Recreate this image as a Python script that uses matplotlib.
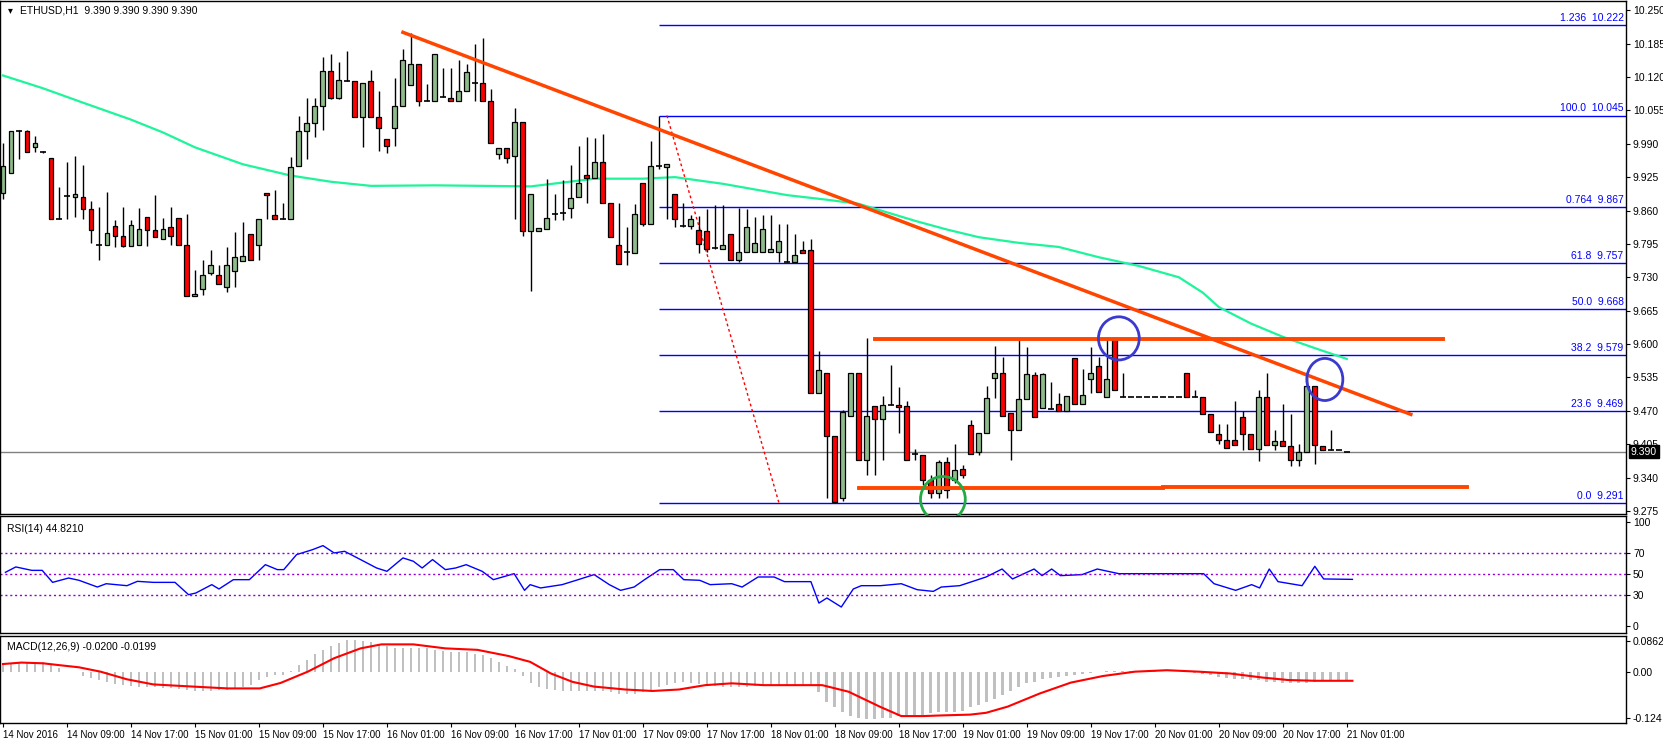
import matplotlib
matplotlib.use("Agg")
import matplotlib.pyplot as plt
from matplotlib.patches import Ellipse
import numpy as np

opens = [9.894,9.934,10.015,10.015,9.983,9.974,9.963,9.843,9.888,9.887,
 9.886,9.863,9.793,9.793,9.829,9.810,9.790,9.793,9.847,9.822,
 9.805,9.827,9.845,9.793,9.694,9.707,9.738,9.735,9.711,9.743,
 9.762,9.814,9.793,9.894,9.851,9.843,9.843,9.946,10.015,10.030,
 10.063,10.132,10.080,10.112,10.112,10.043,10.112,10.043,9.999,10.020,
 10.063,10.104,10.145,10.073,10.073,10.082,10.079,10.073,10.092,10.109,
 10.109,10.073,9.970,9.981,9.967,10.033,9.821,9.821,9.824,9.853,
 9.856,9.865,9.887,9.929,9.923,9.955,9.875,9.792,9.780,9.778,
 9.914,9.834,9.946,9.944,9.892,9.830,9.829,9.822,9.821,9.787,
 9.786,9.815,9.764,9.779,9.779,9.779,9.780,9.779,9.760,9.760,
 9.784,9.784,9.504,9.544,9.421,9.300,9.460,9.544,9.374,9.479,
 9.454,9.482,9.482,9.480,9.385,9.384,9.336,9.310,9.371,9.335,
 9.356,9.443,9.389,9.427,9.533,9.544,9.465,9.432,9.492,9.539,
 9.476,9.473,9.484,9.469,9.572,9.484,9.531,9.557,9.496,9.612,
 9.497,9.497,9.497,9.497,9.497,9.497,9.497,9.497,9.544,9.496,
 9.496,9.463,9.424,9.414,9.414,9.457,9.424,9.395,9.496,9.404,
 9.411,9.402,9.374,9.390,9.518,9.402,9.393,9.393,9.390]
highs = [9.992,10.015,10.017,10.017,10.005,9.976,9.963,9.905,9.955,9.967,
 9.949,9.879,9.866,9.897,9.842,9.866,9.842,9.864,9.847,9.890,
 9.845,9.867,9.845,9.854,9.744,9.764,9.784,9.754,9.788,9.818,
 9.838,9.814,9.843,9.894,9.899,9.874,9.965,10.044,10.080,10.080,
 10.158,10.165,10.150,10.171,10.112,10.108,10.134,10.093,9.999,10.119,
 10.175,10.206,10.145,10.107,10.164,10.138,10.138,10.153,10.145,10.184,
 10.195,10.096,9.981,9.981,10.059,10.033,9.892,9.826,9.921,9.892,
 9.919,9.949,9.985,10.003,10.002,10.009,9.875,9.874,9.828,9.873,
 9.914,9.996,10.045,9.951,9.892,9.874,9.852,9.850,9.863,9.870,
 9.870,9.815,9.865,9.863,9.847,9.852,9.852,9.833,9.833,9.815,
 9.800,9.805,9.586,9.544,9.421,9.472,9.544,9.544,9.611,9.479,
 9.498,9.559,9.517,9.489,9.395,9.384,9.345,9.375,9.380,9.406,
 9.364,9.453,9.426,9.518,9.596,9.575,9.465,9.607,9.594,9.546,
 9.543,9.526,9.504,9.498,9.572,9.552,9.594,9.575,9.609,9.612,
 9.543,9.497,9.497,9.497,9.497,9.497,9.497,9.497,9.544,9.510,
 9.496,9.463,9.444,9.445,9.490,9.470,9.424,9.511,9.544,9.432,
 9.484,9.463,9.405,9.536,9.518,9.402,9.432,9.393,9.390]
lows = [9.882,9.934,9.961,9.973,9.973,9.972,9.843,9.843,9.843,9.847,
 9.843,9.796,9.764,9.793,9.788,9.788,9.790,9.792,9.790,9.808,
 9.805,9.792,9.793,9.694,9.694,9.696,9.735,9.717,9.701,9.711,
 9.762,9.764,9.764,9.843,9.843,9.843,9.843,9.946,9.961,10.004,
 10.017,10.078,10.078,10.112,10.043,9.983,10.043,9.976,9.972,9.985,
 10.063,10.104,10.064,10.073,10.073,10.082,10.073,10.073,10.092,10.073,
 10.073,9.992,9.960,9.952,9.843,9.811,9.704,9.821,9.824,9.841,
 9.841,9.845,9.887,9.874,9.923,9.875,9.808,9.755,9.753,9.778,
 9.829,9.834,9.940,9.844,9.828,9.828,9.824,9.777,9.779,9.786,
 9.786,9.764,9.760,9.779,9.779,9.779,9.780,9.760,9.760,9.760,
 9.778,9.504,9.504,9.300,9.291,9.295,9.460,9.374,9.345,9.345,
 9.374,9.482,9.426,9.375,9.375,9.325,9.300,9.300,9.300,9.330,
 9.340,9.385,9.384,9.427,9.494,9.460,9.374,9.432,9.492,9.458,
 9.476,9.473,9.469,9.469,9.484,9.484,9.504,9.507,9.496,9.510,
 9.497,9.497,9.497,9.497,9.497,9.497,9.497,9.497,9.496,9.496,
 9.463,9.429,9.406,9.397,9.404,9.393,9.395,9.373,9.404,9.394,
 9.402,9.362,9.362,9.390,9.367,9.394,9.393,9.393,9.390]
closes = [9.947,10.015,10.015,9.973,9.991,9.974,9.843,9.843,9.888,9.892,
 9.863,9.822,9.793,9.816,9.810,9.790,9.832,9.824,9.822,9.809,
 9.824,9.811,9.793,9.694,9.698,9.735,9.754,9.717,9.754,9.769,
 9.772,9.764,9.843,9.890,9.843,9.843,9.945,10.015,10.030,10.063,
 10.132,10.080,10.114,10.112,10.043,10.108,10.043,10.020,9.985,10.063,
 10.153,10.145,10.073,10.073,10.164,10.082,10.073,10.092,10.129,10.109,
 10.073,9.992,9.981,9.962,10.033,9.821,9.892,9.826,9.845,9.853,
 9.856,9.884,9.913,9.923,9.955,9.875,9.808,9.755,9.780,9.854,
 9.833,9.946,9.946,9.951,9.844,9.830,9.844,9.794,9.786,9.787,
 9.793,9.764,9.780,9.828,9.797,9.824,9.786,9.800,9.760,9.774,
 9.778,9.504,9.549,9.421,9.292,9.467,9.544,9.374,9.460,9.454,
 9.482,9.482,9.478,9.375,9.385,9.336,9.310,9.370,9.315,9.355,
 9.345,9.385,9.426,9.494,9.544,9.460,9.432,9.492,9.541,9.458,
 9.541,9.473,9.469,9.498,9.484,9.500,9.544,9.507,9.531,9.510,
 9.497,9.497,9.497,9.497,9.497,9.497,9.497,9.497,9.496,9.496,
 9.463,9.429,9.414,9.397,9.404,9.424,9.395,9.496,9.404,9.411,
 9.402,9.374,9.390,9.518,9.403,9.394,9.393,9.393,9.390]

ma_idx = [0,5,10,16,20,24,30,36,41,46,54,66,74,80,84,90,98,103,107,114,118,122,127,132,137,142,147,150,152,156,160,164,168]
ma_val = [10.123,10.098,10.07,10.037,10.012,9.983,9.95,9.928,9.916,9.908,9.909,9.907,9.922,9.922,
          9.925,9.912,9.89,9.881,9.873,9.84,9.823,9.808,9.797,9.789,9.769,9.752,9.730,9.700,9.672,
          9.640,9.614,9.592,9.571]

fib_levels = [10.222,10.045,9.867,9.757,9.668,9.579,9.469,9.291]
fib_names = ["1.236","100.0","0.764","61.8","50.0","38.2","23.6","0.0"]

rsi_idx = [0.3,1.6,3.6,4.9,6.2,8.2,9.5,11.8,12.9,15.5,16.8,18.8,21.5,23.2,24.1,26.1,27,28.8,30.8,
 32.8,34.3,35.1,36.7,38.7,40,41.4,42.7,44.7,46.7,48,50,51.3,52.4,53.7,55.3,56.6,57.9,59.9,61.3,
 63.9,65.2,65.9,67.2,69.9,71.9,73.9,75.8,77.2,78.9,80.2,82.1,83.8,85.1,87.1,88.4,91.1,92.4,94.4,
 96.4,97.7,99.7,101,102,103,104.8,106.3,107.3,109.7,112.3,114.3,116.3,117.3,119.6,122.9,124.9,
 126.2,128.9,129.9,131.1,132.2,134.9,136.8,139.5,140.8,150.1,151.4,154.1,156.1,157.1,158.3,
 159.4,162.4,164,165.1,168.7]
rsi_val = [51.6,56.8,53.5,53.5,41.9,46.1,43.9,37.4,40.6,38.7,42.9,41.9,41.9,30,31.6,39.7,35.5,
 44.5,44.5,59,54.2,54.2,68.7,73.5,77.4,70.3,71.9,63.9,55.8,52.6,65.5,62.3,55.8,63.9,54.2,55.8,
 59,52.6,44.5,50.3,34.2,39.7,36.5,39.7,44.5,49.4,39.7,34.2,37.4,44.5,54.2,54.2,44.5,43.9,39.7,
 40.6,37.4,47.1,47.1,42.6,42.6,42.6,21.9,26.8,18.1,35.5,38.7,38.7,40.6,34.8,33.2,37.4,38.7,
 47.1,54.8,45.2,54.8,48.4,54.8,48.4,49.4,54.8,50.3,50.3,50.3,40.6,34.2,39.7,36.5,54.8,42.6,
 38.7,57.4,45.2,44.8]

macd_hist = [0.025,0.025,0.025,0.028,0.028,0.028,0.020,0.011,0.002,0.002,
 -0.010,-0.016,-0.022,-0.027,-0.031,-0.035,-0.038,-0.040,-0.040,-0.041,
 -0.042,-0.043,-0.046,-0.048,-0.051,-0.051,-0.050,-0.049,-0.047,-0.044,
 -0.040,-0.035,-0.020,-0.012,-0.008,-0.006,0.005,0.020,0.035,0.050,
 0.062,0.072,0.082,0.088,0.089,0.086,0.084,0.075,0.072,0.068,
 0.066,0.066,0.066,0.066,0.062,0.058,0.057,0.057,0.056,0.050,
 0.047,0.040,0.028,0.018,0.010,-0.010,-0.030,-0.040,-0.045,-0.049,
 -0.051,-0.050,-0.050,-0.050,-0.051,-0.052,-0.055,-0.058,-0.060,-0.058,
 -0.055,-0.048,-0.040,-0.035,-0.030,-0.027,-0.028,-0.033,-0.036,-0.038,
 -0.040,-0.040,-0.040,-0.039,-0.037,-0.036,-0.035,-0.035,-0.035,-0.035,
 -0.035,-0.036,-0.055,-0.080,-0.095,-0.108,-0.120,-0.125,-0.127,-0.127,
 -0.126,-0.125,-0.120,-0.118,-0.118,-0.116,-0.112,-0.108,-0.108,-0.108,
 -0.105,-0.095,-0.090,-0.080,-0.072,-0.062,-0.050,-0.040,-0.030,-0.025,
 -0.018,-0.016,-0.014,-0.010,-0.008,-0.004,-0.001,0.002,0.005,0.005,
 0.005,0.005,0.004,0.004,0.003,0.002,0.001,0.0,0.0,-0.002,
 -0.005,-0.008,-0.012,-0.015,-0.017,-0.019,-0.020,-0.022,-0.025,-0.027,
 -0.028,-0.028,-0.028,-0.028,-0.025,-0.022,-0.021,-0.020,-0.020]
sig_idx = [0,2.3,5,7,9.5,12.2,15.5,18.8,22.1,25.5,28.1,32.1,34.7,38.1,41.4,44.7,47.3,51.3,55.3,
 59.3,63.2,65.9,68.5,71.2,73.9,77.8,81.2,84.5,87.8,91.1,95.1,102.4,105.7,109.7,112.3,115,117.6,
 120.9,122.9,125.6,129.6,133.5,137.5,141.5,145.5,149.5,153.4,157.4,160.7,164,168.7]
sig_val = [0.023,0.027,0.025,0.020,0.014,0.002,-0.019,-0.033,-0.037,-0.041,-0.044,-0.044,-0.029,
 0.002,0.039,0.066,0.077,0.077,0.066,0.062,0.045,0.029,-0.003,-0.026,-0.039,-0.047,-0.051,-0.047,
 -0.035,-0.030,-0.035,-0.035,-0.053,-0.095,-0.120,-0.120,-0.118,-0.116,-0.111,-0.094,-0.058,
 -0.028,-0.010,0.002,0.006,0.002,-0.003,-0.014,-0.021,-0.023,-0.023]

tick_labels = ["14 Nov 2016","14 Nov 09:00","14 Nov 17:00","15 Nov 01:00","15 Nov 09:00",
 "15 Nov 17:00","16 Nov 01:00","16 Nov 09:00","16 Nov 17:00","17 Nov 01:00","17 Nov 09:00",
 "17 Nov 17:00","18 Nov 01:00","18 Nov 09:00","18 Nov 17:00","19 Nov 01:00","19 Nov 09:00",
 "19 Nov 17:00","20 Nov 01:00","20 Nov 09:00","20 Nov 17:00","21 Nov 01:00"]

W, H = 1663, 744
plt.rcParams['font.family'] = ['Liberation Sans', 'DejaVu Sans']
fig = plt.figure(figsize=(W/100, H/100), dpi=100)
X0, X1 = -0.375, 202.9
def fy(y0, y1):
    return 1 - y1/H, (y1-y0)/H
axl = 0.0
axw = 1626/W
b, h = fy(1, 514); ax = fig.add_axes([axl, b, axw, h])
b, h = fy(516, 633); ax2 = fig.add_axes([axl, b, axw, h])
b, h = fy(636, 723); ax3 = fig.add_axes([axl, b, axw, h])

for a in (ax, ax2, ax3):
    a.set_xlim(X0, X1)
    a.yaxis.tick_right()
    a.tick_params(axis='y', labelsize=7.5, length=3, direction='out', pad=2)
    for s in a.spines.values():
        s.set_color('black'); s.set_linewidth(1)
    a.set_xticks([])

n = len(closes)
idx = np.arange(n)
o = np.array(opens); c = np.array(closes); hi = np.array(highs); lo = np.array(lows)
ax.vlines(idx, lo, hi, color='black', lw=1, zorder=3)
up = c > o; dn = c < o; eq = c == o
ax.bar(idx[up], (c-o)[up], bottom=o[up], width=0.62, color='#8fbc8b', edgecolor='black', lw=0.9, zorder=4)
ax.bar(idx[dn], (c-o)[dn], bottom=o[dn], width=0.62, color='#ff0000', edgecolor='black', lw=0.9, zorder=4)
ax.hlines(c[eq], idx[eq]-0.35, idx[eq]+0.35, color='black', lw=1.2, zorder=4)

ax.plot(ma_idx, ma_val, color='#1ef59a', lw=1.6, zorder=2)
for lv, nm in zip(fib_levels, fib_names):
    ax.hlines(lv, 82, X1, color='#0000ff', lw=1, zorder=1)
    ax.text(X1-0.3, lv+0.004, f"{nm}  {lv:.3f}", color='#0000ff', fontsize=7.5, ha='right', va='bottom')
ax.axhline(9.390, color='#808080', lw=1, zorder=1)
ax.text(1.003, 9.390, "9.390", transform=ax.get_yaxis_transform(), color='white', fontsize=7.5,
        va='center', ha='left', bbox=dict(boxstyle='square,pad=0.15', fc='black', ec='black'), zorder=6, clip_on=False)
ax.plot([83, 97], [10.045, 9.291], color='red', lw=1, ls=(0, (2, 2)), zorder=2)
ax.plot([50, 176], [10.207, 9.463], color='#ff4500', lw=2.5, zorder=5)
ax.plot([109, 180], [9.609, 9.609], color='#ff4500', lw=2.8, zorder=5)
ax.plot([107, 145], [9.319, 9.319], color='#ff4500', lw=2.8, zorder=5)
ax.plot([145, 183], [9.322, 9.322], color='#ff4500', lw=2.8, zorder=5)
ax.add_patch(Ellipse((139.5, 9.611), 5.1, 0.084, fill=False, ec='#3a3acf', lw=2, zorder=6))
ax.add_patch(Ellipse((165.25, 9.531), 4.5, 0.082, fill=False, ec='#3a3acf', lw=2, zorder=6))
ax.add_patch(Ellipse((117.5, 9.298), 5.6, 0.088, fill=False, ec='#22aa44', lw=2, zorder=6, clip_on=False))
ax.set_ylim(9.269, 10.268)
ax.set_yticks([round(10.25 - 0.065*k, 3) for k in range(16)])
ax.set_yticklabels([f"{10.25 - 0.065*k:.3f}" for k in range(16)])
ax.text(0.005, 0.992, "\u25be", transform=ax.transAxes, fontsize=7, va='top', family='DejaVu Sans')
ax.text(0.012, 0.992, "ETHUSD,H1  9.390 9.390 9.390 9.390", transform=ax.transAxes, fontsize=7.5, va='top')

ax2.plot(rsi_idx, rsi_val, color='#0000ff', lw=1)
for lv in (70, 50, 30):
    ax2.axhline(lv, color='#9400d3', lw=1, ls=(0, (1.5, 2)))
ax2.set_ylim(-7, 106)
ax2.set_yticks([100, 70, 50, 30, 0])
ax2.text(0.004, 0.93, "RSI(14) 44.8210", transform=ax2.transAxes, fontsize=7.5, va='top')

ax3.bar(idx, macd_hist, width=0.35, color='#c0c0c0', zorder=1)
ax3.plot(sig_idx, sig_val, color='#ff0000', lw=1.5, zorder=2)
ax3.set_ylim(-0.139, 0.100)
ax3.set_yticks([0.0862, 0.0, -0.124])
ax3.set_yticklabels(["0.0862", "0.00", "-0.124"])
ax3.text(0.004, 0.93, "MACD(12,26,9) -0.0200 -0.0199", transform=ax3.transAxes, fontsize=7.5, va='top')
tp = [8*k for k in range(len(tick_labels))]
ax3.set_xticks(tp)
ax3.set_xticklabels(tick_labels, fontsize=7, ha='left')
ax3.tick_params(axis='x', length=3, pad=2)
fig.savefig("out.png", dpi=100)
